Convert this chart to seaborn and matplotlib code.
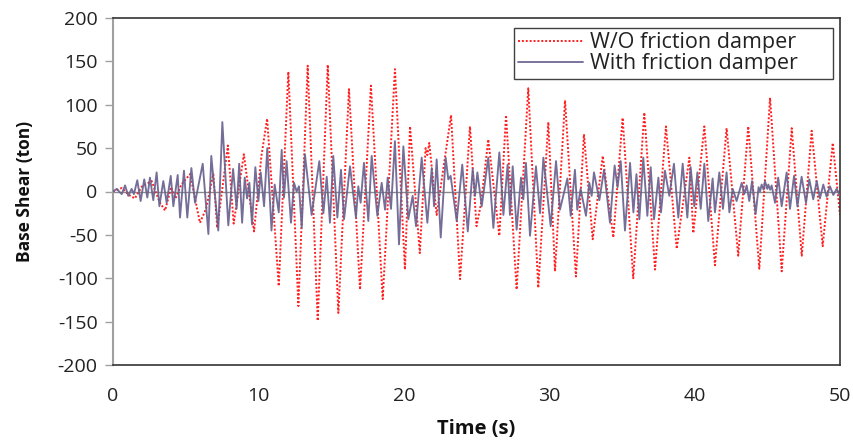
import matplotlib
matplotlib.use("Agg")
import matplotlib.pyplot as plt
import seaborn as sns
import pandas as pd

# ---- data (peaks / troughs) ----
t_without = [0, 0.6, 1.1, 1.5, 2.0, 2.66, 3.2, 3.58, 4.0, 4.3, 4.7, 5.3, 5.98, 6.4, 6.9, 7.17,
             7.9, 8.3, 9.0, 9.7, 10.2, 10.6, 11.4, 12.06, 12.75, 13.39, 14.08, 14.77, 15.5,
             16.23, 16.99, 17.74, 18.55, 19.39, 20.08, 20.43, 21.1, 21.5, 21.62, 21.75, 22.26,
             23.25, 23.87, 24.55, 25.0, 25.3, 25.81, 26.57, 27.03, 27.76, 28.56, 29.25, 29.94,
             30.4, 31.09, 31.84, 32.39, 32.99, 33.68, 34.41, 35.05, 35.78, 36.54, 37.28, 38.03,
             38.77, 39.64, 39.91, 40.67, 41.4, 42.2, 43.0, 43.69, 44.45, 45.19, 45.99, 46.68,
             47.37, 48.05, 48.81, 49.5, 50.0]
v_without = [0, 4, -4, -8, 6, 12, -12, -22, 5, -8, 8, 20, -36, -20, 20, -42,
             53, -37, 43, -46, 40, 84, -109, 138, -132, 145, -149, 146, -140,
             118, -113, 122, -124, 141, -90, 75, -71, 50, 42, 56, -27,
             88, -101, 75, -40, -15, 60, -51, 88, -113, 119, -111, 80,
             -92, 105, -98, 66, -55, 41, -53, 85, -100, 91, -90, 75,
             -66, 39, -48, 75, -85, 73, -74, 75, -89, 108, -92, 73,
             -74, 70, -63, 56, -27]

t_with = [0.0, 0.25, 0.6, 0.83, 1.05, 1.28, 1.44, 1.67, 1.9, 2.15, 2.36, 2.54, 2.77, 3.0, 3.19,
          3.46, 3.69, 3.97, 4.15, 4.45, 4.61, 4.88, 5.11, 5.39, 5.64, 6.17, 6.56, 6.76, 7.24,
          7.52, 7.93, 8.26, 8.5, 8.68, 8.88, 9.06, 9.22, 9.38, 9.56, 9.79, 10.0, 10.16, 10.39,
          10.61, 10.9, 11.12, 11.4, 11.6, 11.76, 11.94, 12.24, 12.45, 12.63, 12.79, 12.98, 13.2,
          13.66, 14.19, 14.47, 14.7, 14.92, 15.15, 15.43, 15.68, 15.89, 16.3, 16.71, 16.87,
          17.03, 17.26, 17.56, 17.79, 18.18, 18.48, 18.71, 18.89, 19.12, 19.39, 19.67, 19.97,
          20.31, 20.61, 20.84, 21.23, 21.62, 21.92, 22.08, 22.26, 22.54, 22.88, 23.06, 23.22,
          23.64, 24.02, 24.4, 24.74, 24.9, 25.06, 25.36, 25.81, 26.16, 26.57, 26.85, 27.14,
          27.3, 27.49, 27.76, 28.06, 28.22, 28.4, 28.68, 29.09, 29.37, 29.6, 30.1, 30.47,
          30.74, 31.25, 31.48, 31.77, 31.93, 32.16, 32.53, 32.76, 32.92, 33.08, 33.45, 33.77,
          34.18, 34.5, 34.7, 34.92, 35.21, 35.56, 35.79, 36.0, 36.2, 36.47, 36.75, 36.98,
          37.21, 37.51, 37.69, 37.96, 38.26, 38.58, 38.88, 39.18, 39.5, 39.73, 39.98, 40.19,
          40.42, 40.67, 40.94, 41.24, 41.4, 41.7, 41.95, 42.2, 42.39, 42.62, 42.89, 43.24,
          43.42, 43.58, 43.76, 43.95, 44.2, 44.4, 44.5, 44.61, 44.75, 44.84, 45.0, 45.07,
          45.2, 45.3, 45.53, 45.75, 45.99, 46.33, 46.56, 46.84, 47.07, 47.36, 47.66, 47.89,
          48.16, 48.4, 48.62, 48.85, 49.08, 49.31, 49.54, 49.77, 50.0]
v_with = [0, 3, -3, 7, -5, 3, -3, 13, -11, 14, -7, 16, -10, 22, -17,
          12, -13, 18, -17, 19, -30, 24, -30, 27, -13, 32, -49, 41, -45,
          80, -39, 26, -20, 32, -36, 16, -8, 10, -38, 28, -11, 22, -17,
          50, -45, 8, -24, 48, -7, 35, -36, 10, 0, 6, -42, 43,
          -27, 35, -25, 17, -36, 41, -30, 25, -32, 29, -30, 6,
          -13, 33, -34, 41, -28, 10, -21, 16, -20, 58, -61, 52,
          -32, -5, -40, 39, -36, 27, -17, 37, -53, 39, 14, 18,
          -34, 31, -46, 26, -5, 22, -17, 39, -42, 45, -27, 31,
          -27, 29, -44, 16, -9, 33, -51, 29, -25, 39, -40, 35,
          -21, 15, -28, 25, -21, 3, -28, 10, -5, 22, -10, 25,
          -36, 30, 5, 35, -45, 33, -24, 20, -32, 39, -28, 28,
          -32, 16, -24, 24, -5, 32, -30, 32, -30, 28, -17, 22,
          -20, 32, -34, 15, -24, 22, -20, 22, -24, 3, -11, 10,
          -3, 7, -11, 12, -26, 5, 0, 8, 2, 12, 3, 8,
          2, 7, -13, 16, -17, 22, -20, 18, -17, 17, -13, 14,
          -9, 12, -8, 8, -6, 6, -4, 3, -5]

x_ticks = [0, 10, 20, 30, 40, 50]
y_ticks = [-200, -150, -100, -50, 0, 50, 100, 150, 200]
label_without = "W/O friction damper"
label_with = "With friction damper"

sns.set_theme(style="white")
plt.rcParams["font.family"] = ["Open Sans", "DejaVu Sans"]
plt.rcParams["axes.unicode_minus"] = False

fig = plt.figure(figsize=(8.54, 4.42), dpi=100)
ax = fig.add_axes([113 / 854, 1 - 365 / 442, (840 - 113) / 854, (365 - 18) / 442])

df_wo = pd.DataFrame({"t": t_without, "v": v_without})
df_w = pd.DataFrame({"t": t_with, "v": v_with})

ax.axhline(0, color="#8a8a8a", lw=1.0, zorder=1)
sns.lineplot(data=df_wo, x="t", y="v", ax=ax, color="#ff1f1f", lw=1.4,
             linestyle=(0, (1, 1)), label=label_without, zorder=2, sort=False)
sns.lineplot(data=df_w, x="t", y="v", ax=ax, color="#68628f", lw=1.35, alpha=0.92,
             label=label_with, zorder=3, sort=False)

ax.set_xlim(0, 50)
ax.set_ylim(-200, 200)
ax.set_xticks(x_ticks)
ax.set_yticks(y_ticks)
ax.set_xticklabels([str(v) for v in x_ticks])
ax.set_yticklabels([str(v) for v in y_ticks])
ax.tick_params(axis="x", length=0, pad=16, labelsize=14, colors="#222222")
ax.tick_params(axis="y", length=6, width=1, direction="out", pad=5, labelsize=14,
               color="#a0a0a0", labelcolor="#222222", left=True)

for side in ["top", "right", "bottom"]:
    ax.spines[side].set_color("#333333")
    ax.spines[side].set_linewidth(1.2)
ax.spines["left"].set_color("#a0a0a0")
ax.spines["left"].set_linewidth(1.5)

ax.set_xlabel("Time (s)", fontsize=14.5, fontweight="bold", labelpad=10, color="#111111")
ax.set_ylabel("Base Shear (ton)", fontsize=12.5, fontweight="bold", labelpad=17, color="#111111")

leg_x0 = (514 - 113) / 727
leg_x1 = (833 - 113) / 727
leg_top = 1 - (28 - 18) / 347
leg = ax.legend(loc="upper left", bbox_to_anchor=(leg_x0, leg_top - 0.2, leg_x1 - leg_x0, 0.2),
                mode="expand", fontsize=15.5, frameon=True, fancybox=False, handlelength=3.0,
                handletextpad=0.35, borderpad=0.2, labelspacing=0.0, borderaxespad=0)
leg.get_frame().set_edgecolor("#111111")
leg.get_frame().set_linewidth(1.0)
for txt in leg.get_texts():
    txt.set_color("#222222")

fig.savefig("out.png", dpi=100)
